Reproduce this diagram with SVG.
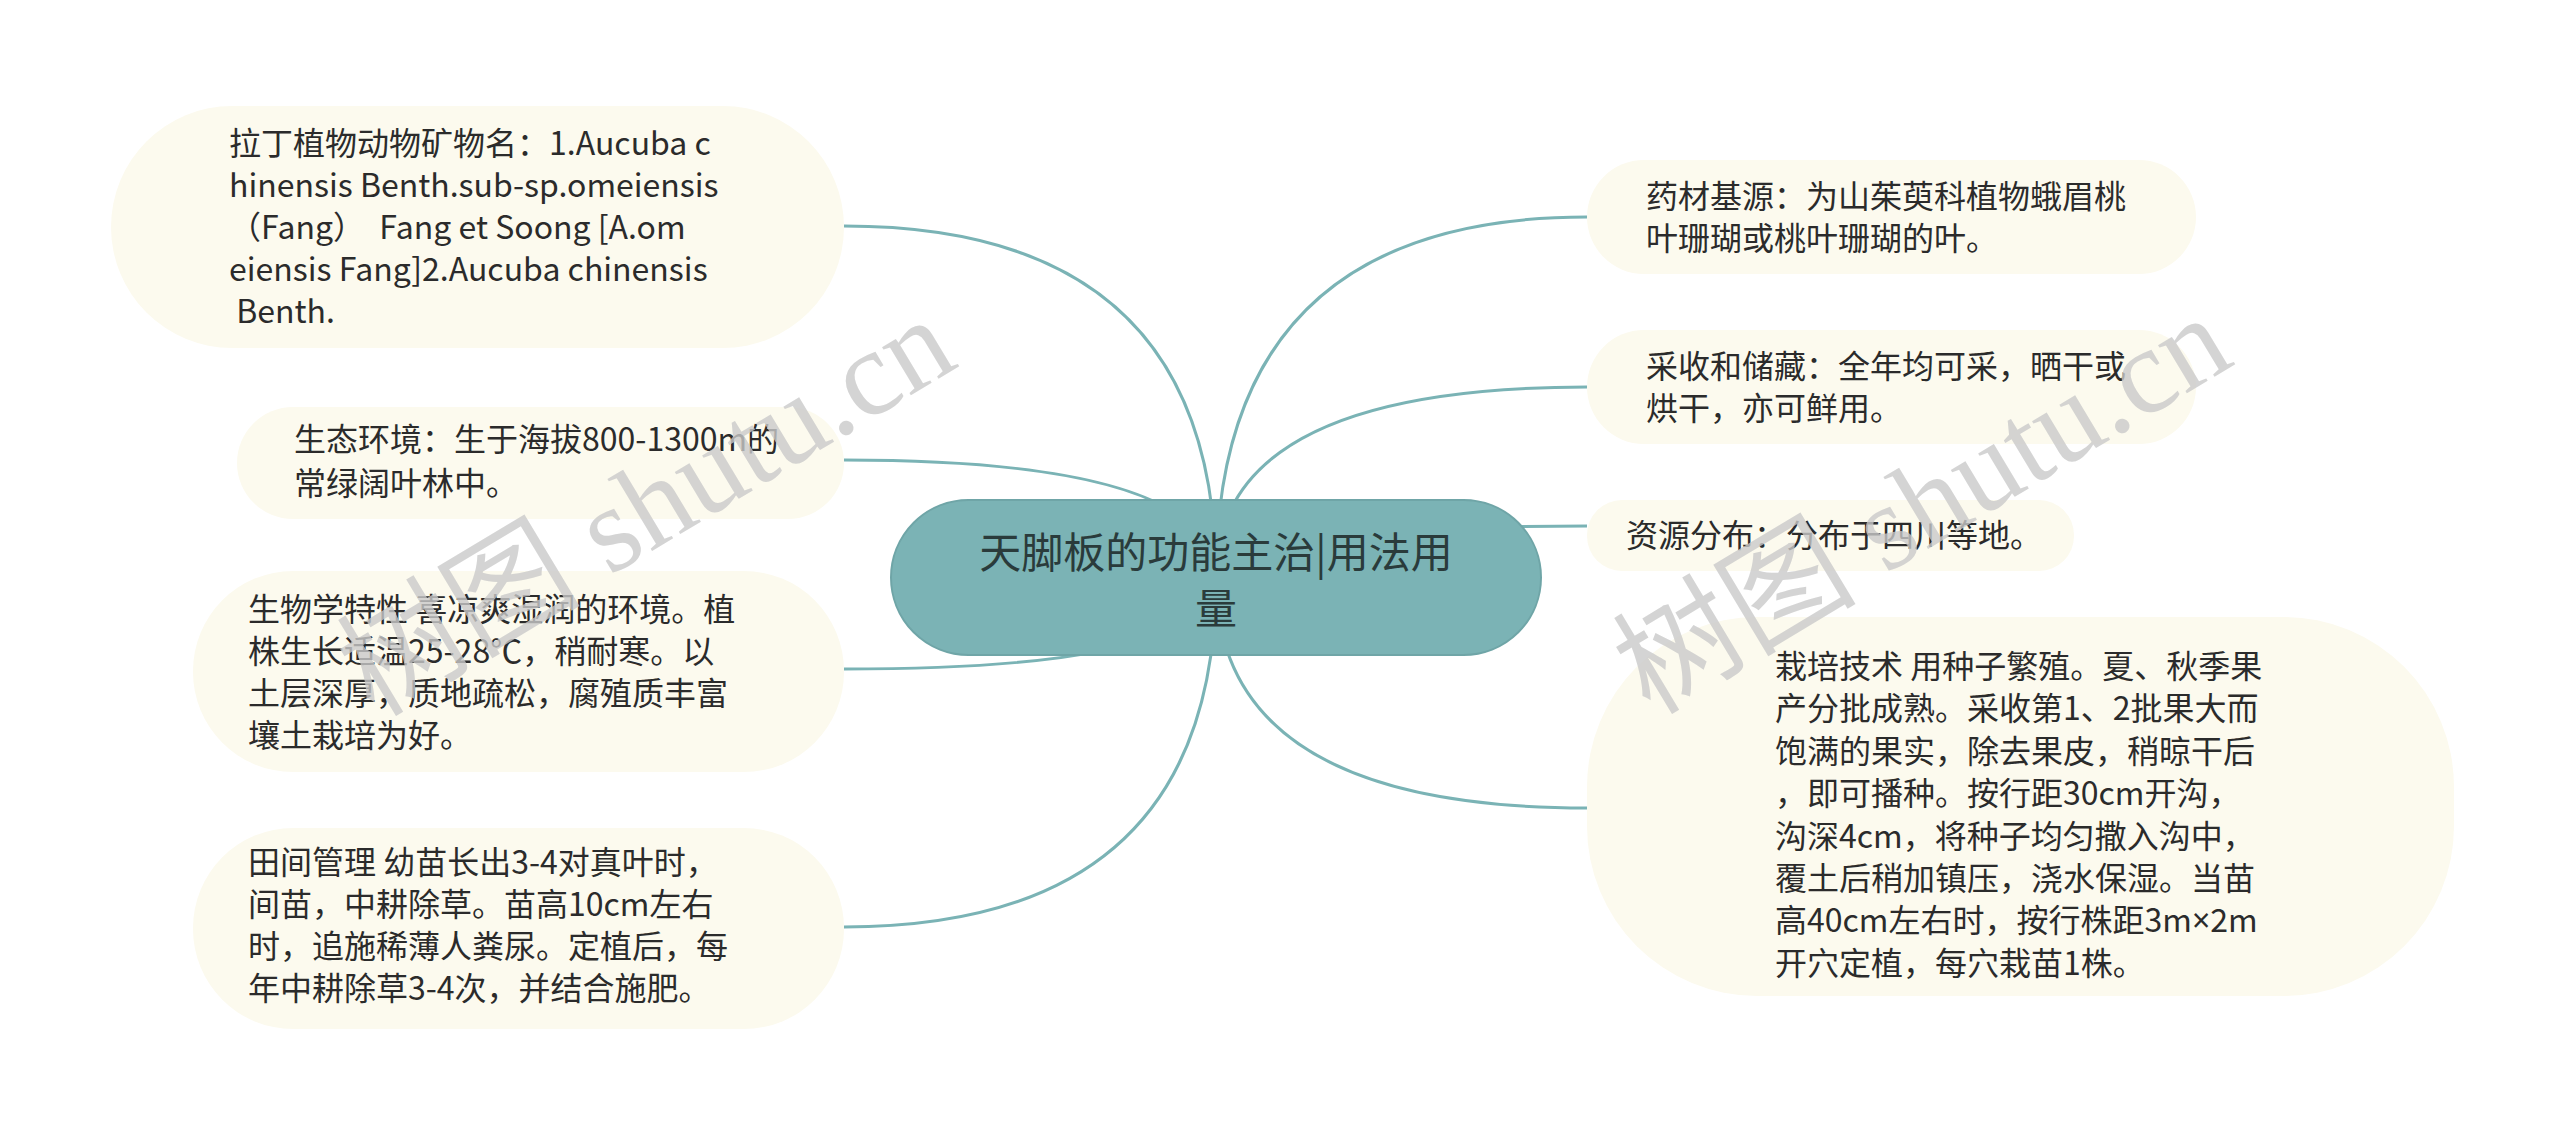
<svg xmlns="http://www.w3.org/2000/svg" width="2560" height="1135" viewBox="0 0 2560 1135">
<style>
.leaf{fill:#FCFAEE;}
.lt{font-family:"Noto Sans CJK SC","Noto Sans",sans-serif;font-size:32px;fill:#2b2b2b;}
.lat{font-family:"Noto Sans","Noto Sans CJK SC",sans-serif;}
.rt{font-family:"Noto Sans CJK SC","Noto Sans",sans-serif;font-size:42px;fill:#2a3b3b;text-anchor:middle;}
.edge{fill:none;stroke:#7AB3B5;stroke-width:3;}
.wm{font-family:"Liberation Serif","Noto Sans CJK SC",serif;font-size:122px;fill:#c9c9c9;fill-opacity:0.8;}
</style>
<rect width="2560" height="1135" fill="#ffffff"/>
<g id="connectors">
<path class="edge" d="M1216 578 Q1216 226 844 226"/>
<path class="edge" d="M1216 578 Q1216 460 844 460"/>
<path class="edge" d="M1216 578 Q1216 669 844 669"/>
<path class="edge" d="M1216 578 Q1216 927 844 927"/>
<path class="edge" d="M1216 578 Q1216 217 1587 217"/>
<path class="edge" d="M1216 578 Q1216 387 1587 387"/>
<path class="edge" d="M1216 578 Q1216 526 1587 526"/>
<path class="edge" d="M1216 578 Q1216 808 1587 808"/>
</g>
<g id="root">
<rect x="891" y="500" width="650" height="155" rx="77.5" fill="#7BB3B5" stroke="#6FA5A7" stroke-width="2"/>
<text class="rt" x="1216" y="568">天脚板的功能主治|用法用</text>
<text class="rt" x="1216" y="624">量</text>
</g>
<g id="node-latin">
<rect class="leaf" x="111" y="106" width="733" height="242" rx="121"/>
<text class="lt" x="229" y="155">拉丁植物动物矿物名：1.Aucuba c</text>
<text class="lt" x="229" y="197">hinensis Benth.sub-sp.omeiensis</text>
<text class="lt" x="229" y="239" xml:space="preserve">（Fang）  Fang et Soong [A.om</text>
<text class="lt" x="229" y="281">eiensis Fang]2.Aucuba chinensis</text>
<text class="lt" x="229" y="323" xml:space="preserve"> Benth.</text>
</g>
<g id="node-env">
<rect class="leaf" x="237" y="407" width="607" height="112" rx="56"/>
<text class="lt" x="294" y="451">生态环境：生于海拔800-1300m的</text>
<text class="lt" x="294" y="495">常绿阔叶林中。</text>
</g>
<g id="node-bio">
<rect class="leaf" x="193" y="571" width="651" height="201" rx="100"/>
<text class="lt" x="248" y="621">生物学特性 喜凉爽湿润的环境。植</text>
<text class="lt" x="248" y="663">株生长适温25-28℃，稍耐寒。以</text>
<text class="lt" x="248" y="705">土层深厚，质地疏松，腐殖质丰富</text>
<text class="lt" x="248" y="747">壤土栽培为好。</text>
</g>
<g id="node-field">
<rect class="leaf" x="193" y="828" width="651" height="201" rx="100"/>
<text class="lt" x="248" y="874">田间管理 幼苗长出3-4对真叶时，</text>
<text class="lt" x="248" y="916">间苗，中耕除草。苗高10cm左右</text>
<text class="lt" x="248" y="958">时，追施稀薄人粪尿。定植后，每</text>
<text class="lt" x="248" y="1000">年中耕除草3-4次，并结合施肥。</text>
</g>
<g id="node-source">
<rect class="leaf" x="1587" y="160" width="609" height="114" rx="57"/>
<text class="lt" x="1646" y="208">药材基源：为山茱萸科植物蛾眉桃</text>
<text class="lt" x="1646" y="250">叶珊瑚或桃叶珊瑚的叶。</text>
</g>
<g id="node-harvest">
<rect class="leaf" x="1587" y="330" width="609" height="114" rx="57"/>
<text class="lt" x="1646" y="378">采收和储藏：全年均可采，晒干或</text>
<text class="lt" x="1646" y="420">烘干，亦可鲜用。</text>
</g>
<g id="node-distribution">
<rect class="leaf" x="1587" y="500" width="487" height="71" rx="35"/>
<text class="lt" x="1626" y="547">资源分布：分布于四川等地。</text>
</g>
<g id="node-cultivation">
<rect class="leaf" x="1587" y="617" width="867" height="379" rx="170"/>
<text class="lt" x="1775" y="678">栽培技术 用种子繁殖。夏、秋季果</text>
<text class="lt" x="1775" y="720">产分批成熟。采收第1、2批果大而</text>
<text class="lt" x="1775" y="763">饱满的果实，除去果皮，稍晾干后</text>
<text class="lt" x="1775" y="805">，即可播种。按行距30cm开沟，</text>
<text class="lt" x="1775" y="848">沟深4cm，将种子均匀撒入沟中，</text>
<text class="lt" x="1775" y="890">覆土后稍加镇压，浇水保湿。当苗</text>
<text class="lt" x="1775" y="932">高40cm左右时，按行株距3m<tspan class="lat">×</tspan>2m</text>
<text class="lt" x="1775" y="975">开穴定植，每穴栽苗1株。</text>
</g>
<g id="watermarks">
<text class="wm" transform="translate(374 718) rotate(-31)">树图 shutu.cn</text>
<text class="wm" transform="translate(1650 716) rotate(-31)">树图 shutu.cn</text>
</g>
</svg>
